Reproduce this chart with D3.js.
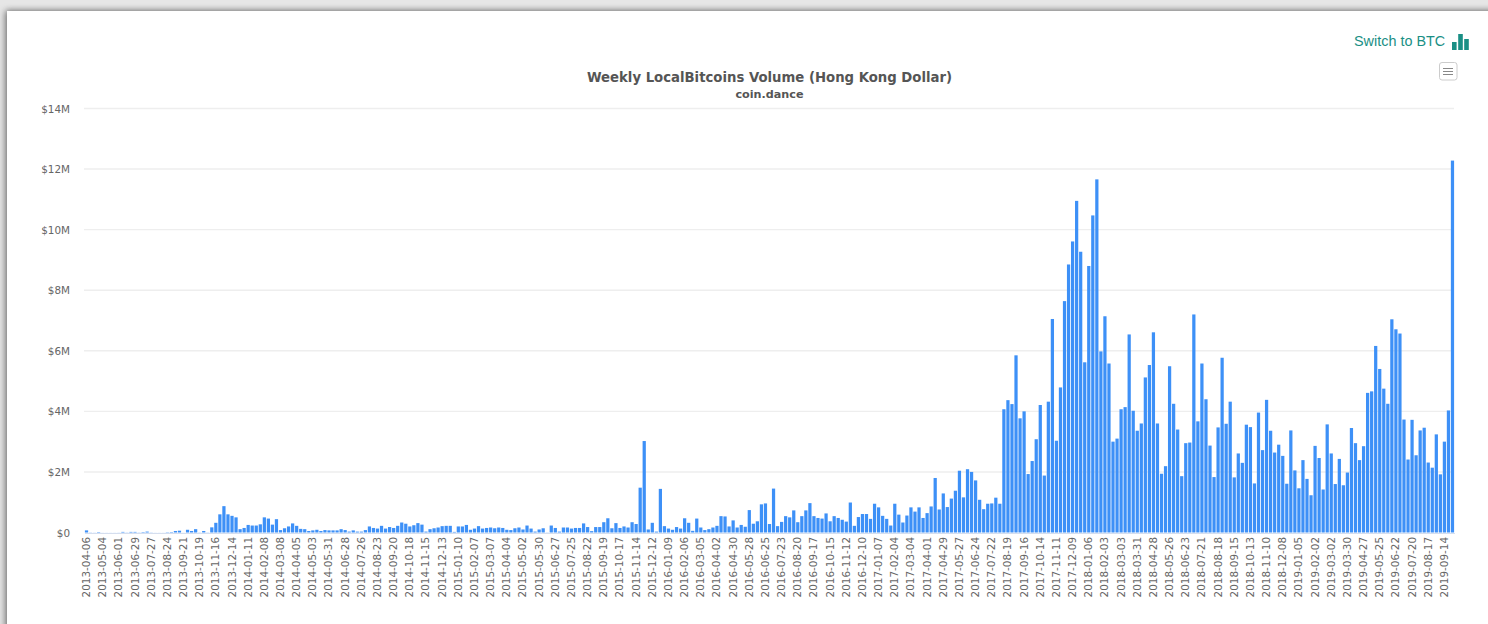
<!DOCTYPE html>
<html><head><meta charset="utf-8">
<script src="https://cdn.jsdelivr.net/npm/d3@7/dist/d3.min.js"></script>
<style>
html,body{margin:0;padding:0;width:1488px;height:624px;overflow:hidden;background:#e6e6e6}
#panel{position:absolute;left:7px;top:11px;width:1490px;height:640px;background:#fff;box-shadow:-2px 0 7px rgba(0,0,0,.4),0 -1px 5px rgba(0,0,0,.22)}
svg{position:absolute;left:0;top:0}
text{font-family:"DejaVu Sans",sans-serif}
</style></head><body>
<div id="panel"></div>
<svg id="c" width="1488" height="624"></svg>
<script>
const chartTitle = "Weekly LocalBitcoins Volume (Hong Kong Dollar)";
const chartSubtitle = "coin.dance";
const switchLabel = "Switch to BTC";
const yTicks = [0, 2, 4, 6, 8, 10, 12, 14];
const tickLabels = ["2013-04-06","2013-05-04","2013-06-01","2013-06-29","2013-07-27","2013-08-24","2013-09-21","2013-10-19","2013-11-16","2013-12-14",
"2014-01-11","2014-02-08","2014-03-08","2014-04-05","2014-05-03","2014-05-31","2014-06-28","2014-07-26","2014-08-23","2014-09-20","2014-10-18","2014-11-15","2014-12-13",
"2015-01-10","2015-02-07","2015-03-07","2015-04-04","2015-05-02","2015-05-30","2015-06-27","2015-07-25","2015-08-22","2015-09-19","2015-10-17","2015-11-14","2015-12-12",
"2016-01-09","2016-02-06","2016-03-05","2016-04-02","2016-04-30","2016-05-28","2016-06-25","2016-07-23","2016-08-20","2016-09-17","2016-10-15","2016-11-12","2016-12-10",
"2017-01-07","2017-02-04","2017-03-04","2017-04-01","2017-04-29","2017-05-27","2017-06-24","2017-07-22","2017-08-19","2017-09-16","2017-10-14","2017-11-11","2017-12-09",
"2018-01-06","2018-02-03","2018-03-03","2018-03-31","2018-04-28","2018-05-26","2018-06-23","2018-07-21","2018-08-18","2018-09-15","2018-10-13","2018-11-10","2018-12-08",
"2019-01-05","2019-02-02","2019-03-02","2019-03-30","2019-04-27","2019-05-25","2019-06-22","2019-07-20","2019-08-17","2019-09-14"];
// weekly volume in millions of HKD, one entry per week
const volume2013 = [.07,.005,.003,.015,.002,.002,.002,.002,.003,.02,.005,.02,.02,.005,.015,.03,.005,.002,.002,.002,.01,.015,.05,.06,.002,.09,.05,.11,.005,.05,.005,.17,.32,.6,.87,.6,.55,.5];
const volume2014 = [.11,.15,.25,.23,.23,.27,.5,.46,.26,.44,.08,.14,.2,.3,.22,.12,.11,.05,.07,.09,.05,.08,.07,.07,.07,.11,.08,.03,.07,.03,.03,.08,.2,.15,.13,.22,.13,.18,.15,.22,.33,.29,.2,.24,.31,.26,.03,.11,.14,.165,.21,.22];
const volume2015 = [.22,.02,.2,.2,.25,.09,.13,.21,.13,.15,.165,.14,.165,.15,.09,.08,.14,.165,.1,.23,.13,.03,.1,.14,.005,.23,.15,.03,.165,.165,.13,.15,.15,.3,.18,.045,.18,.18,.34,.47,.14,.31,.15,.2,.165,.34,.28,1.48,3.02,.1,.32,.03];
const volume2016 = [1.44,.21,.13,.09,.18,.13,.47,.32,.055,.46,.165,.08,.11,.165,.22,.54,.53,.2,.4,.165,.25,.19,.74,.29,.37,.93,.96,.28,1.45,.21,.35,.54,.5,.73,.34,.54,.73,.97,.54,.48,.46,.63,.37,.54,.48,.42,.36,.99,.22,.51,.61,.61];
const volume2017 = [.45,.95,.83,.55,.45,.23,.95,.59,.33,.56,.83,.69,.83,.48,.64,.86,1.8,.76,1.29,.84,1.12,1.38,2.04,1.16,2.09,2.0,1.72,1.08,.77,.95,.96,1.15,.95,4.07,4.37,4.24,5.85,3.77,4.0,1.93,2.36,3.08,4.21,1.88,4.32,7.05,3.03,4.79,7.64,8.85,9.61,10.95];
const volume2018 = [9.27,5.62,8.8,10.47,11.66,5.98,7.14,5.58,3.0,3.1,4.07,4.14,6.54,4.02,3.36,3.6,5.12,5.53,6.61,3.6,1.94,2.19,5.49,4.25,3.4,1.86,2.95,2.97,7.2,3.67,5.58,4.4,2.87,1.83,3.47,5.77,3.59,4.32,1.82,2.61,2.3,3.56,3.48,1.62,3.96,2.72,4.38,3.36,2.64,2.9,2.53,1.61,3.37,2.05,1.46,2.39,1.77];
const volume2019 = [1.23,2.86,2.46,1.42,3.57,2.61,1.6,2.43,1.56,1.98,3.45,2.95,2.39,2.85,4.61,4.66,6.16,5.4,4.75,4.25,7.04,6.71,6.57,3.73,2.41,3.72,2.55,3.37,3.46,2.31,2.14,3.24,1.92,3.0,4.03,12.28];
const volume = [].concat(volume2013, volume2014, volume2015, volume2016, volume2017, volume2018, volume2019);

const svg = d3.select("#c");
const x = d3.scaleBand().domain(d3.range(volume.length)).range([84.5, 1454.5]).paddingInner(0.2).paddingOuter(0.1);
const y = d3.scaleLinear().domain([0, 14]).range([532.5, 108.5]);

const yAxis = d3.axisLeft(y).tickValues(yTicks).tickSize(0).tickPadding(0).tickFormat(d => "$" + d + (d ? "M" : ""));
const gy = svg.append("g").attr("transform", "translate(70,0)").call(yAxis);
gy.select(".domain").remove();
gy.selectAll("text").attr("font-size", 10.4).attr("fill", "#666").attr("dy", "0.35em");

svg.append("g").selectAll("line").data(yTicks.filter(d => d > 0)).join("line")
  .attr("x1", 84).attr("x2", 1454)
  .attr("y1", d => y(d)).attr("y2", d => y(d))
  .attr("stroke", "#eeeeee").attr("stroke-width", 1.4);

svg.append("g").selectAll("rect").data(volume).join("rect")
  .attr("x", (d, i) => x(i)).attr("width", x.bandwidth())
  .attr("y", d => y(d)).attr("height", d => y(0) - y(d))
  .attr("fill", "#3d90f7");

const xAxis = d3.axisBottom(x)
  .tickValues(tickLabels.map((d, i) => i * 4))
  .tickSize(0).tickPadding(0)
  .tickFormat(i => tickLabels[i / 4]);
const gx = svg.append("g").attr("transform", "translate(0,533)").call(xAxis);
gx.select(".domain").attr("stroke", "#d5deee").attr("stroke-width", 1);
gx.selectAll("text").attr("font-size", 10.4).attr("fill", "#666")
  .attr("text-anchor", "end").attr("dy", 0).attr("y", 0)
  .attr("transform", "translate(3.5,4) rotate(-90)");

svg.append("text").attr("x", 769.5).attr("y", 82).attr("text-anchor", "middle")
  .attr("font-size", 13.25).attr("font-weight", "bold").attr("fill", "#555").text(chartTitle);
svg.append("text").attr("x", 769.5).attr("y", 98).attr("text-anchor", "middle")
  .attr("font-size", 11.2).attr("font-weight", "bold").attr("fill", "#555").text(chartSubtitle);

svg.append("text").attr("x", 1354).attr("y", 46).attr("font-size", 14.4)
  .style("font-family", '"Liberation Sans",Arial,sans-serif').attr("fill", "#1a8f85").text(switchLabel);
const icon = svg.append("g").attr("fill", "#1a8f85");
icon.append("rect").attr("x", 1452).attr("y", 42).attr("width", 4.6).attr("height", 8);
icon.append("rect").attr("x", 1458.2).attr("y", 34).attr("width", 4.6).attr("height", 16);
icon.append("rect").attr("x", 1464.2).attr("y", 39).attr("width", 4.6).attr("height", 11);

svg.append("rect").attr("x", 1439.5).attr("y", 62.5).attr("width", 17.5).attr("height", 17.5).attr("rx", 2.5)
  .attr("fill", "#fff").attr("stroke", "#cccccc");
[68.5, 71.5, 74.5].forEach(v => svg.append("line").attr("x1", 1443).attr("x2", 1453).attr("y1", v).attr("y2", v)
  .attr("stroke", "#888").attr("stroke-width", 1));
</script></body></html>
